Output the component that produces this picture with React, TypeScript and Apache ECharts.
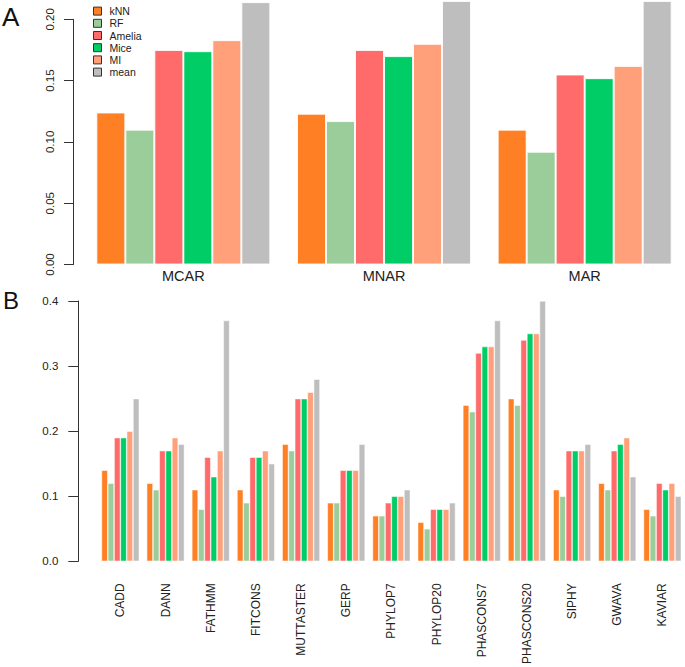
import React, { useEffect, useRef } from "react";
import * as echarts from "echarts";

const methods = ["kNN", "RF", "Amelia", "Mice", "MI", "mean"];
const colors = ["#FF7F24", "#9BCD9B", "#FF6A6A", "#00CD66", "#FFA07A", "#BEBEBE"];

const mechanisms = ["MCAR", "MNAR", "MAR"];
// values per method across MCAR, MNAR, MAR
const aKNN = [0.124, 0.123, 0.110];
const aRF = [0.110, 0.117, 0.092];
const aAmelia = [0.175, 0.175, 0.155];
const aMice = [0.174, 0.170, 0.152];
const aMI = [0.183, 0.180, 0.162];
const aMean = [0.214, 0.215, 0.215];

const tools = ["CADD", "DANN", "FATHMM", "FITCONS", "MUTTASTER", "GERP", "PHYLOP7", "PHYLOP20", "PHASCONS7", "PHASCONS20", "SIPHY", "GWAVA", "KAVIAR"];
const bKNN = [0.14, 0.12, 0.11, 0.11, 0.18, 0.09, 0.07, 0.06, 0.24, 0.25, 0.11, 0.12, 0.08];
const bRF = [0.12, 0.11, 0.08, 0.09, 0.17, 0.09, 0.07, 0.05, 0.23, 0.24, 0.10, 0.11, 0.07];
const bAmelia = [0.19, 0.17, 0.16, 0.16, 0.25, 0.14, 0.09, 0.08, 0.32, 0.34, 0.17, 0.17, 0.12];
const bMice = [0.19, 0.17, 0.13, 0.16, 0.25, 0.14, 0.10, 0.08, 0.33, 0.35, 0.17, 0.18, 0.11];
const bMI = [0.20, 0.19, 0.17, 0.17, 0.26, 0.14, 0.10, 0.08, 0.33, 0.35, 0.17, 0.19, 0.12];
const bMean = [0.25, 0.18, 0.37, 0.15, 0.28, 0.18, 0.11, 0.09, 0.37, 0.40, 0.18, 0.13, 0.10];

const panelA = [aKNN, aRF, aAmelia, aMice, aMI, aMean];
const panelB = [bKNN, bRF, bAmelia, bMice, bMI, bMean];

const FONT = "'Liberation Sans', Arial, Helvetica, sans-serif";

export default function App() {
  const ref = useRef<HTMLDivElement>(null);
  useEffect(() => {
    if (!ref.current) return;
    const chart = echarts.init(ref.current, null, { renderer: "svg" });
    const seriesA = panelA.map((d, i) => ({
      name: methods[i],
      type: "bar",
      xAxisIndex: 0,
      yAxisIndex: 0,
      data: d,
      barWidth: 29,
      barGap: "0%",
      clip: false,
      itemStyle: { color: colors[i], borderColor: "rgba(255,255,255,0.85)", borderWidth: 1 },
    }));
    const seriesB = panelB.map((d, i) => ({
      name: methods[i],
      type: "bar",
      xAxisIndex: 1,
      yAxisIndex: 1,
      data: d,
      barWidth: 6.3,
      barGap: "0%",
      itemStyle: { color: colors[i], borderColor: "rgba(255,255,255,0.85)", borderWidth: 0.6 },
    }));
    chart.setOption({
      animation: false,
      textStyle: { fontFamily: FONT },
      legend: {
        data: methods,
        orient: "vertical",
        left: 88,
        top: 0,
        itemWidth: 8,
        itemHeight: 8,
        itemGap: 0,
        icon: "rect",
        itemStyle: { borderColor: "#333", borderWidth: 1 },
        textStyle: { fontSize: 10.5, color: "#222", lineHeight: 12.2, padding: [0, 0, 0, 3] },
      },
      graphic: [
        { type: "text", left: 2, top: 4, style: { text: "A", font: `26px ${FONT}`, fill: "#111" } },
        { type: "text", left: 3, top: 288, style: { text: "B", font: `24px ${FONT}`, fill: "#111" } },
      ],
      grid: [
        { left: 83, top: 19.3, width: 612, height: 245.2 },
        { left: 97.8, top: 301, width: 589.3, height: 264 },
      ],
      xAxis: [
        {
          type: "category",
          gridIndex: 0,
          data: mechanisms,
          axisLine: { show: false },
          axisTick: { show: false },
          axisLabel: { fontSize: 14.5, color: "#222", margin: 4 },
        },
        {
          type: "category",
          gridIndex: 1,
          data: tools,
          axisLine: { show: false },
          axisTick: { show: false },
          axisLabel: { fontSize: 12, color: "#222", margin: 22, rotate: 90, interval: 0 },
        },
      ],
      yAxis: [
        {
          type: "value",
          gridIndex: 0,
          min: 0,
          max: 0.2,
          interval: 0.05,
          offset: 10,
          splitLine: { show: false },
          axisLine: { show: true, lineStyle: { color: "#333", width: 1 } },
          axisTick: { show: true, length: 9, lineStyle: { color: "#333" } },
          axisLabel: {
            fontSize: 11.5,
            color: "#222",
            rotate: 90,
            margin: 17,
            formatter: (v: number) => v.toFixed(2),
          },
        },
        {
          type: "value",
          gridIndex: 1,
          min: 0,
          max: 0.4,
          interval: 0.1,
          offset: 19.5,
          splitLine: { show: false },
          axisLine: { show: true, lineStyle: { color: "#333", width: 1 } },
          axisTick: { show: true, length: 10, lineStyle: { color: "#333" } },
          axisLabel: {
            fontSize: 11.5,
            color: "#222",
            margin: 20,
            formatter: (v: number) => v.toFixed(1),
          },
        },
      ],
      series: [...seriesA, ...seriesB],
    });
    return () => chart.dispose();
  }, []);
  return (
    <div
      ref={ref}
      style={{ position: "absolute", left: 0, top: 0, width: 685, height: 667, background: "#fff" }}
    />
  );
}
